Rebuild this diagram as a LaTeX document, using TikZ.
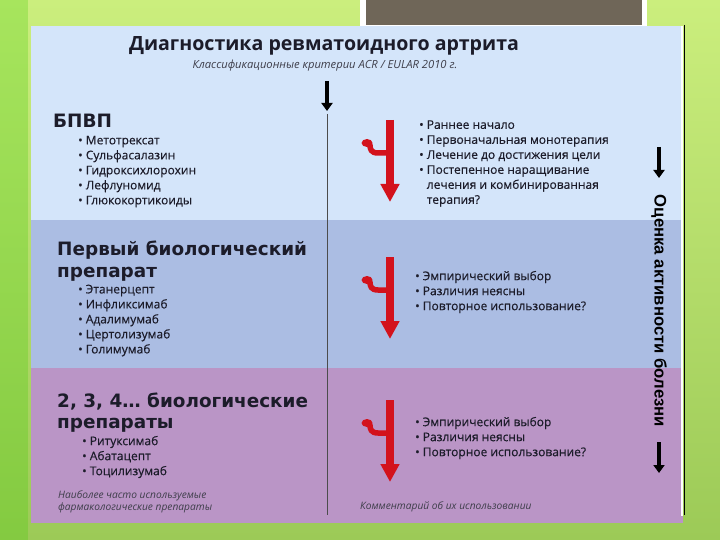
\documentclass[tikz,border=0pt]{standalone}
\usepackage{fontspec}
\setmainfont{Open Sans}
\newfontfamily\headfont{DejaVu Sans}
\newfontfamily\sidefont{Liberation Sans}
\newfontfamily\itemfont{Open Sans}[FakeBold=0.35]
\usetikzlibrary{arrows.meta}

\definecolor{bgtop}{HTML}{CBEE7D}
\definecolor{bgbot}{HTML}{9CCA57}
\definecolor{slidegray}{HTML}{6F6658}
\definecolor{bandone}{HTML}{D4E5FA}
\definecolor{bandtwo}{HTML}{ABBDE3}
\definecolor{bandthree}{HTML}{BA95C6}
\definecolor{hookred}{HTML}{D3121C}
\definecolor{inkdark}{HTML}{1C1C2A}

\begin{document}
\begin{tikzpicture}[x=1pt, y=-1pt,
    title/.style = {inner sep=0pt, text=inkdark, font=\bfseries\fontsize{19.6}{22}\selectfont},
    subtitle/.style = {inner sep=0pt, text=inkdark!85, font=\itshape\fontsize{11.2}{13}\selectfont},
    head/.style = {anchor=west, inner sep=0pt, align=left, text=inkdark, font=\headfont\bfseries\fontsize{18.4}{21.5}\selectfont},
    items/.style = {anchor=west, inner sep=0pt, align=left, text=inkdark, font=\itemfont\fontsize{12}{15}\selectfont},
    note/.style = {anchor=west, inner sep=0pt, align=left, text=inkdark!85, font=\itshape\fontsize{10.2}{12}\selectfont},
    side/.style = {inner sep=0pt, text=black, font=\sidefont\bfseries\fontsize{16.7}{19}\selectfont},
    red arrow/.style = {draw=hookred, line width=8pt, -{Triangle[width=18pt,length=18pt]}},
    hook/.style = {draw=hookred, line width=5.5pt, line cap=round},
    black arrow/.style = {draw=black, line width=4.5pt, -{Triangle[width=11pt,length=8pt]}}]

    \shade[top color=bgtop, bottom color=bgbot] (0,0) rectangle (720,540);
    \fill[green!70!yellow!80!black, opacity=.25] (0,0) rectangle (28,540);
    \useasboundingbox (0,0) rectangle (720,540);

    \fill[white] (360,0) rectangle (647,27);
    \fill[slidegray] (366,0) rectangle (642,25);

    \fill[bandone] (31,26) rectangle (683,220);
    \fill[bandtwo] (31,220) rectangle (683,368);
    \fill[bandthree] (31,368) rectangle (683,523);
    \draw[white, line width=1.5pt] (682,26) -- (682,516);
    \draw[black, line width=0.8pt] (684,25) -- (684,515);
    \draw[gray!60!black, line width=0.7pt] (327,114) -- (327,515);

    \node[title] (title) at (324,46) {Диагностика ревматоидного артрита};
    \node[subtitle] (subtitle) at (325,66) {Классификационные критерии ACR / EULAR 2010 г.};
    \coordinate (down top) at (327,81);
    \coordinate (down end) at (327,111);
    \draw[black arrow] (down top) -- (down end);

    \node[head] (bpvp) at (53,121) {БПВП};
    \node[items] (bpvp list) at (78,171.5) {• Метотрексат\\• Сульфасалазин\\• Гидроксихлорохин\\• Лефлуномид\\• Глюкокортикоиды};
    \node[items] (bpvp notes) at (419,163.5) {• Раннее начало\\• Первоначальная монотерапия\\• Лечение до достижения цели\\• Постепенное наращивание\\\hphantom{• }лечения и комбинированная\\\hphantom{• }терапия?};

    \node[head] (first bio) at (57,261) {Первый биологический\\препарат};
    \node[items] (first list) at (78,320.5) {• Этанерцепт\\• Инфликсимаб\\• Адалимумаб\\• Цертолизумаб\\• Голимумаб};
    \node[items] (first notes) at (415,292) {• Эмпирический выбор\\• Различия неясны\\• Повторное использование?};

    \node[head] (next bio) at (57,412.5) {2, 3, 4… биологические\\препараты};
    \node[items] (next list) at (82,457) {• Ритуксимаб\\• Абатацепт\\• Тоцилизумаб};
    \node[items] (next notes) at (415,438) {• Эмпирический выбор\\• Различия неясны\\• Повторное использование?};

    \node[note] (drugs note) at (58,502) {Наиболее часто используемые\\фармакологические препараты};
    \node[note] (use note) at (360,507) {Комментарий об их использовании};

    \foreach \i/\t in {1/120, 2/257, 3/400} {
        \coordinate (red top \i) at (390,\t);
        \coordinate (red end \i) at (390,\t+82);
        \draw[red arrow] (red top \i) -- (red end \i);
        \draw[hook] (387,\t+33) -- (378,\t+33) .. controls (371,\t+33) and (370,\t+29) .. (370,\t+25);
        \fill[hookred] (367,\t+23) ellipse (5.5pt and 4pt);
    }

    \node[side, rotate=-90] (activity) at (659,311) {Оценка активности болезни};
    \coordinate (act top a) at (659,147);
    \coordinate (act top b) at (659,178);
    \coordinate (act end a) at (659,442);
    \coordinate (act end b) at (659,473);
    \draw[black arrow] (act top a) -- (act top b);
    \draw[black arrow] (act end a) -- (act end b);
\end{tikzpicture}
\end{document}
